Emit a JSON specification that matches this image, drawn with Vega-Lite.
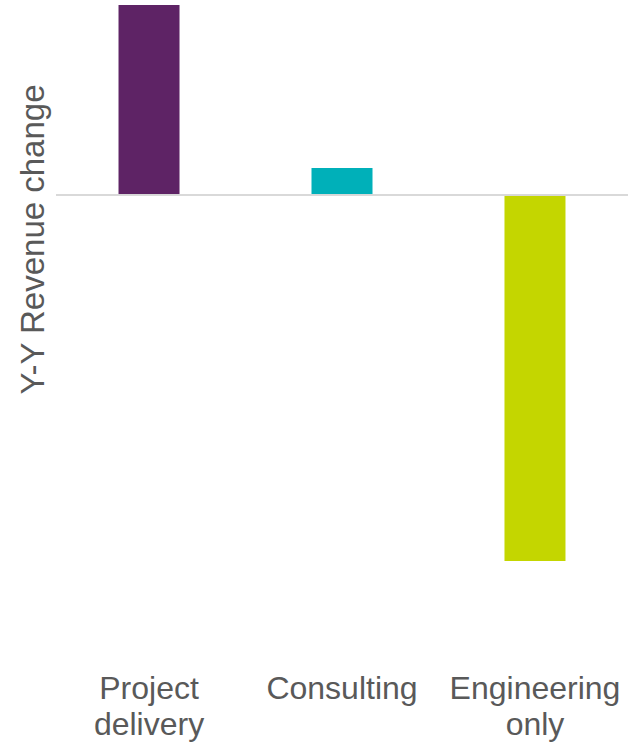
{
  "$schema": "https://vega.github.io/schema/vega-lite/v6.json",
  "width": 572,
  "height": 640,
  "autosize": {"type": "none"},
  "padding": {"left": 56, "top": 5, "right": 0, "bottom": 99},
  "background": "white",
  "config": {"view": {"stroke": null}, "font": "Liberation Sans"},
  "data": {
    "values": [
      {"category": "Project delivery", "change": 19},
      {"category": "Consulting", "change": 2.7},
      {"category": "Engineering only", "change": -36.6}
    ]
  },
  "layer": [
    {
      "mark": {"type": "bar", "width": 61},
      "encoding": {
        "x": {
          "field": "category",
          "type": "nominal",
          "sort": null,
          "scale": {"paddingInner": 0.68, "paddingOuter": 0.322},
          "axis": {
            "title": null,
            "domain": false,
            "ticks": false,
            "labelAngle": 0,
            "labelFontSize": 32,
            "labelColor": "#595959",
            "labelFont": "Liberation Sans",
            "labelPadding": 28,
            "labelBaseline": "top",
            "labelLineHeight": 36,
            "labelLimit": 0,
            "labelOverlap": false,
            "labelExpr": "split(datum.label, ' ')"
          }
        },
        "y": {
          "field": "change",
          "type": "quantitative",
          "scale": {"domain": [-45, 19], "nice": false, "zero": false},
          "axis": {
            "labels": false,
            "ticks": false,
            "domain": false,
            "grid": false,
            "title": "Y-Y Revenue change",
            "titleFontSize": 33,
            "titleFontWeight": "normal",
            "titleColor": "#595959",
            "titleFont": "Liberation Sans",
            "titleAngle": -90,
            "titleBaseline": "bottom",
            "titleAlign": "center",
            "titleX": -6,
            "titleY": 234
          }
        },
        "color": {
          "field": "category",
          "type": "nominal",
          "scale": {
            "domain": ["Project delivery", "Consulting", "Engineering only"],
            "range": ["#5e2365", "#00b0b9", "#c4d600"]
          },
          "legend": null
        }
      }
    },
    {
      "mark": {"type": "rule", "color": "#d9d9d9", "strokeWidth": 1.5},
      "encoding": {"y": {"datum": 0}}
    }
  ]
}
